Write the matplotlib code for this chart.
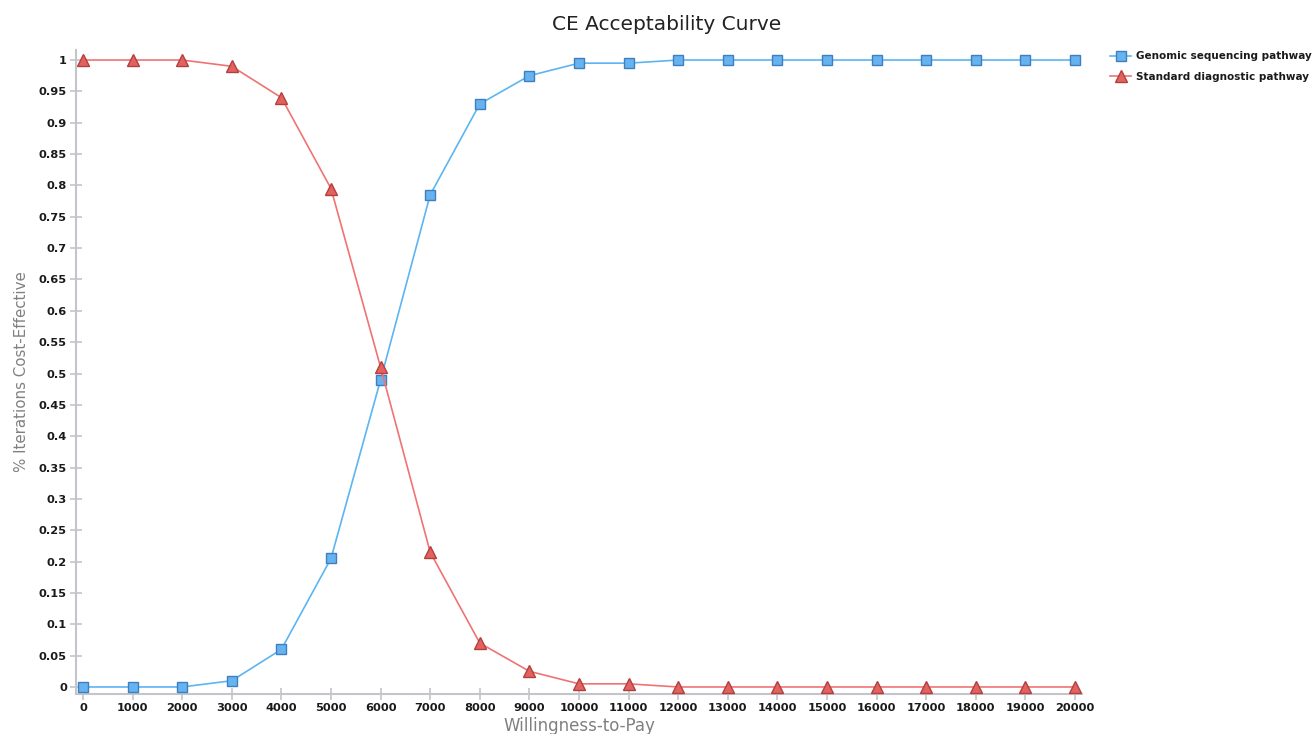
import matplotlib
matplotlib.use("Agg")
import matplotlib.pyplot as plt

wtp = [0, 1000, 2000, 3000, 4000, 5000, 6000, 7000, 8000, 9000, 10000,
       11000, 12000, 13000, 14000, 15000, 16000, 17000, 18000, 19000, 20000]
genomic = [0, 0, 0, 0.01, 0.06, 0.205, 0.49, 0.785, 0.93, 0.975, 0.995,
           0.995, 1, 1, 1, 1, 1, 1, 1, 1, 1]
standard = [1, 1, 1, 0.99, 0.94, 0.795, 0.51, 0.215, 0.07, 0.025, 0.005,
            0.005, 0, 0, 0, 0, 0, 0, 0, 0, 0]
y_ticks = [round(0.05 * i, 2) for i in range(21)]
y_labels = [f"{v:g}" for v in y_ticks]

plt.rcParams["font.family"] = ["DejaVu Sans"]

fig = plt.figure(figsize=(13.16, 7.34), dpi=100)
W, H = 1316, 734
ax = fig.add_axes([76 / W, (H - 694) / H, (1082 - 76) / W, (694 - 50) / H])

ax.plot(wtp, genomic, "-", color="#5cb5f2", lw=1.2, marker="s", ms=7,
        mfc="#66b3ef", mec="#3d7fbf", mew=1.0, label="Genomic sequencing pathway",
        zorder=3)
ax.plot(wtp, standard, "-", color="#f07373", lw=1.2, marker="^", ms=8,
        mfc="#e2625f", mec="#b0403e", mew=1.0, label="Standard diagnostic pathway",
        zorder=3)

ax.set_xlim(-141, 20141)
ax.set_ylim(-0.0112, 1.016)
ax.set_xticks(wtp)
ax.set_xticklabels([str(v) for v in wtp])
ax.set_yticks(y_ticks)
ax.set_yticklabels(y_labels)

for side in ("top", "right"):
    ax.spines[side].set_visible(False)
for side in ("left", "bottom"):
    ax.spines[side].set_color("#c4c4cc")
    ax.spines[side].set_linewidth(1.5)
ax.tick_params(axis="both", colors="#c4c4cc", width=1.2, length=9,
               direction="inout", labelcolor="#1a1a1a", labelsize=8.2)
ax.tick_params(axis="x", pad=2)
ax.tick_params(axis="y", pad=2)
for lbl in ax.get_xticklabels() + ax.get_yticklabels():
    lbl.set_fontweight("bold")

ax.set_xlabel("Willingness-to-Pay", color="#808080", fontsize=12, labelpad=3)
ax.set_ylabel("% Iterations Cost-Effective", color="#808080", fontsize=10.8,
              labelpad=7)

fig.text(667 / W, 1 - 25 / H, "CE Acceptability Curve", ha="center",
         va="center", fontsize=14.5, color="#222222")

leg = fig.legend(loc="upper left", bbox_to_anchor=(1106 / W, 1 - 47 / H),
                 frameon=False, fontsize=7.5, handlelength=2.0,
                 handletextpad=0.45, labelspacing=1.05, borderaxespad=0)
for t in leg.get_texts():
    t.set_fontweight("bold")
    t.set_color("#1a1a1a")

fig.savefig("out.png", dpi=100)
